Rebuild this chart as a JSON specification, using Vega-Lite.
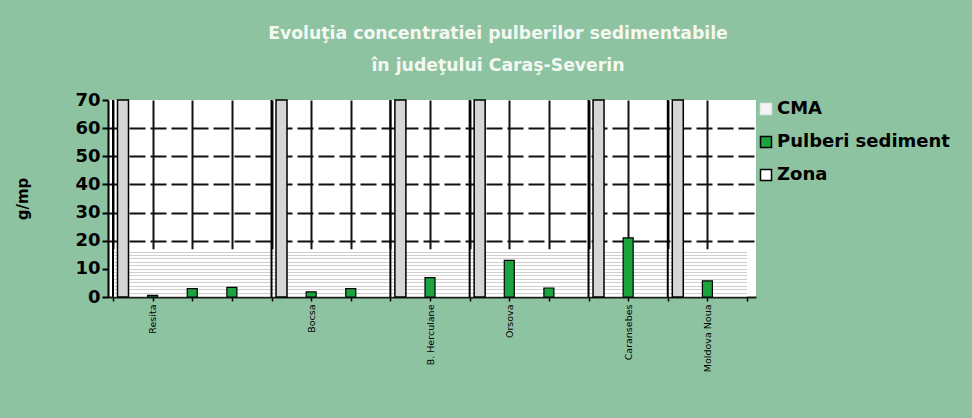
{
  "$schema": "https://vega.github.io/schema/vega-lite/v6.json",
  "width": 648,
  "height": 197,
  "autosize": {"type": "none"},
  "padding": {"left": 108, "top": 100, "right": 216, "bottom": 121},
  "background": "#8ec3a2",
  "title": {
    "text": ["Evoluţia concentratiei  pulberilor sedimentabile", "în judeţului Caraş-Severin"],
    "font": "DejaVu Sans",
    "fontWeight": "bold",
    "fontSize": 17.3,
    "color": "#f4f8f0",
    "lineHeight": 32,
    "anchor": "middle",
    "frame": "group",
    "dx": 66,
    "offset": 17
  },
  "data": {
    "values": [
      {"pos": 0, "zona": 70, "cma": 17},
      {"pos": 1, "pulberi": 0.6, "cma": 17},
      {"pos": 2, "pulberi": 3.0, "cma": 17},
      {"pos": 3, "pulberi": 3.4, "cma": 17},
      {"pos": 4, "zona": 70, "cma": 17},
      {"pos": 5, "pulberi": 1.8, "cma": 17},
      {"pos": 6, "pulberi": 3.0, "cma": 17},
      {"pos": 7, "zona": 70, "cma": 17},
      {"pos": 8, "pulberi": 6.9, "cma": 17},
      {"pos": 9, "zona": 70, "cma": 17},
      {"pos": 10, "pulberi": 13.0, "cma": 17},
      {"pos": 11, "pulberi": 3.2, "cma": 17},
      {"pos": 12, "zona": 70, "cma": 17},
      {"pos": 13, "pulberi": 21.0, "cma": 17},
      {"pos": 14, "zona": 70, "cma": 17},
      {"pos": 15, "pulberi": 5.7, "cma": 17},
      {"pos": 16, "cma": 17}
    ]
  },
  "encoding": {
    "x": {
      "field": "pos",
      "type": "quantitative",
      "scale": {"domain": [0, 16.1], "nice": false, "zero": false},
      "axis": {
        "title": null,
        "values": [0, 1, 2, 3, 4, 5, 6, 7, 8, 9, 10, 11, 12, 13, 14, 15, 16],
        "labelExpr": "{'1':'Resita','5':'Bocsa','8':'B. Herculane','10':'Orsova','13':'Caransebes','15':'Moldova Noua'}[datum.value] || ''",
        "labelAngle": -90,
        "labelFont": "DejaVu Sans",
        "labelFontSize": 9.5,
        "labelColor": "black",
        "labelPadding": 3,
        "labelOverlap": false,
        "labelBound": false,
        "labelFlush": false,
        "tickSize": 4,
        "tickWidth": 1.5,
        "tickColor": "black",
        "domainColor": "#1a1a1a",
        "domainWidth": 2,
        "grid": true,
        "gridColor": "#111111",
        "gridWidth": 2,
        "gridOpacity": {"condition": {"test": "datum.value >= 16", "value": 0}, "value": 1}
      }
    }
  },
  "layer": [
    {
      "mark": {
        "type": "area",
        "fill": {
          "gradient": "linear",
          "x1": 0, "y1": 0, "x2": 0, "y2": 1,
          "stops": [
            {"offset": 0, "color": "#ffffff"}, {"offset": 0.05, "color": "#ffffff"}, {"offset": 0.05, "color": "#cfcfcf"}, {"offset": 0.0714, "color": "#cfcfcf"},
            {"offset": 0.0714, "color": "#ffffff"}, {"offset": 0.1214, "color": "#ffffff"}, {"offset": 0.1214, "color": "#cfcfcf"}, {"offset": 0.1429, "color": "#cfcfcf"},
            {"offset": 0.1429, "color": "#ffffff"}, {"offset": 0.1929, "color": "#ffffff"}, {"offset": 0.1929, "color": "#cfcfcf"}, {"offset": 0.2143, "color": "#cfcfcf"},
            {"offset": 0.2143, "color": "#ffffff"}, {"offset": 0.2643, "color": "#ffffff"}, {"offset": 0.2643, "color": "#cfcfcf"}, {"offset": 0.2857, "color": "#cfcfcf"},
            {"offset": 0.2857, "color": "#ffffff"}, {"offset": 0.3357, "color": "#ffffff"}, {"offset": 0.3357, "color": "#cfcfcf"}, {"offset": 0.3571, "color": "#cfcfcf"},
            {"offset": 0.3571, "color": "#ffffff"}, {"offset": 0.4071, "color": "#ffffff"}, {"offset": 0.4071, "color": "#cfcfcf"}, {"offset": 0.4286, "color": "#cfcfcf"},
            {"offset": 0.4286, "color": "#ffffff"}, {"offset": 0.4786, "color": "#ffffff"}, {"offset": 0.4786, "color": "#cfcfcf"}, {"offset": 0.5, "color": "#cfcfcf"},
            {"offset": 0.5, "color": "#ffffff"}, {"offset": 0.55, "color": "#ffffff"}, {"offset": 0.55, "color": "#cfcfcf"}, {"offset": 0.5714, "color": "#cfcfcf"},
            {"offset": 0.5714, "color": "#ffffff"}, {"offset": 0.6214, "color": "#ffffff"}, {"offset": 0.6214, "color": "#cfcfcf"}, {"offset": 0.6429, "color": "#cfcfcf"},
            {"offset": 0.6429, "color": "#ffffff"}, {"offset": 0.6929, "color": "#ffffff"}, {"offset": 0.6929, "color": "#cfcfcf"}, {"offset": 0.7143, "color": "#cfcfcf"},
            {"offset": 0.7143, "color": "#ffffff"}, {"offset": 0.7643, "color": "#ffffff"}, {"offset": 0.7643, "color": "#cfcfcf"}, {"offset": 0.7857, "color": "#cfcfcf"},
            {"offset": 0.7857, "color": "#ffffff"}, {"offset": 0.8357, "color": "#ffffff"}, {"offset": 0.8357, "color": "#cfcfcf"}, {"offset": 0.8571, "color": "#cfcfcf"},
            {"offset": 0.8571, "color": "#ffffff"}, {"offset": 0.9071, "color": "#ffffff"}, {"offset": 0.9071, "color": "#cfcfcf"}, {"offset": 0.9286, "color": "#cfcfcf"},
            {"offset": 0.9286, "color": "#ffffff"}, {"offset": 0.9786, "color": "#ffffff"}, {"offset": 0.9786, "color": "#cfcfcf"}, {"offset": 1, "color": "#cfcfcf"}
          ]
        }
      },
      "encoding": {
        "y": {
          "field": "cma",
          "type": "quantitative",
          "title": "g/mp",
          "scale": {"domain": [0, 70], "nice": false},
          "axis": {
            "gridOpacity": {"condition": {"test": "datum.value >= 20 && datum.value <= 60", "value": 1}, "value": 0}
          }
        }
      }
    },
    {
      "transform": [{"filter": "isValid(datum.zona)"}],
      "mark": {"type": "rule", "color": "black", "strokeWidth": 2},
      "encoding": {
        "y": {"field": "zona", "type": "quantitative", "title": "g/mp"},
        "y2": {"datum": 0}
      }
    },
    {
      "transform": [{"filter": "isValid(datum.zona)"}],
      "mark": {"type": "bar", "fill": "#d6d6d6", "stroke": "black", "strokeWidth": 1.5, "width": 11, "xOffset": 10},
      "encoding": {
        "y": {"field": "zona", "type": "quantitative", "title": "g/mp"}
      }
    },
    {
      "transform": [{"filter": "isValid(datum.pulberi)"}],
      "mark": {"type": "bar", "strokeWidth": 1.2, "width": 10},
      "encoding": {
        "y": {"field": "pulberi", "type": "quantitative", "title": "g/mp"},
        "fill": {
          "datum": "Pulberi sediment",
          "type": "nominal",
          "scale": {"domain": ["CMA", "Pulberi sediment", "Zona"], "range": ["#f4f4f4", "#1aa33f", "#ffffff"]},
          "legend": {
            "title": null,
            "orient": "right",
            "offset": 1,
            "padding": 0,
            "symbolType": "square",
            "symbolSize": 121,
            "symbolStrokeWidth": 1.5,
            "labelFont": "DejaVu Sans",
            "labelFontWeight": "bold",
            "labelFontSize": 18,
            "labelColor": "black",
            "labelOffset": 2,
            "labelLimit": 400,
            "rowPadding": 15
          }
        },
        "stroke": {
          "datum": "Pulberi sediment",
          "type": "nominal",
          "scale": {"domain": ["CMA", "Pulberi sediment", "Zona"], "range": ["#e8e8e8", "#000000", "#000000"]},
          "legend": {
            "title": null,
            "orient": "right",
            "offset": 1,
            "padding": 0,
            "symbolType": "square",
            "symbolSize": 121,
            "symbolStrokeWidth": 1.5,
            "labelFont": "DejaVu Sans",
            "labelFontWeight": "bold",
            "labelFontSize": 18,
            "labelColor": "black",
            "labelOffset": 2,
            "labelLimit": 400,
            "rowPadding": 15
          }
        }
      }
    }
  ],
  "config": {
    "view": {"fill": "white", "stroke": null},
    "axisY": {
      "values": [0, 10, 20, 30, 40, 50, 60, 70],
      "labelOverlap": false,
      "labelBound": false,
      "labelFlush": false,
      "labelFont": "DejaVu Sans",
      "labelFontWeight": "bold",
      "labelFontSize": 18,
      "labelColor": "black",
      "labelPadding": 2,
      "tickSize": 6,
      "tickWidth": 2,
      "tickColor": "black",
      "domainColor": "black",
      "domainWidth": 2,
      "titleFont": "DejaVu Sans",
      "titleFontWeight": "bold",
      "titleFontSize": 15,
      "titleColor": "black",
      "titlePadding": 44,
      "grid": true,
      "gridColor": "#111111",
      "gridWidth": 2,
      "gridDash": [16, 5]
    }
  }
}
